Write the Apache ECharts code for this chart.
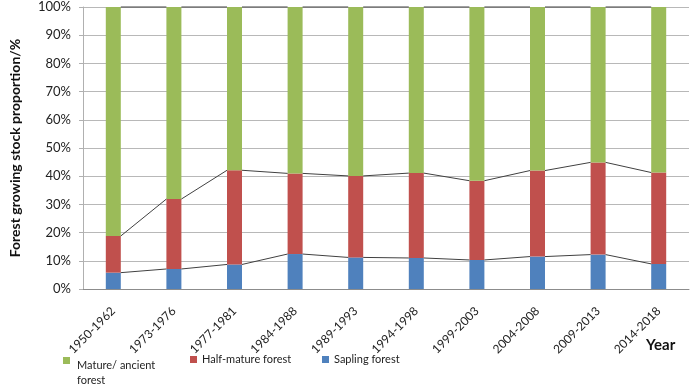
<!DOCTYPE html>
<html>
<head>
<meta charset="utf-8">
<script src="https://cdn.jsdelivr.net/npm/echarts@6/dist/echarts.min.js"></script>
<style>
html,body{margin:0;padding:0;background:#fff;}
#chart{width:692px;height:388px;}
</style>
</head>
<body>
<div id="chart"></div>
<script>
//森林蓄积量比例
var periods = ["1950-1962","1973-1976","1977-1981","1984-1988","1989-1993","1994-1998","1999-2003","2004-2008","2009-2013","2014-2018"];
var sapling = [5.8, 7.1, 8.7, 12.4, 11.2, 11.0, 10.3, 11.5, 12.2, 8.9];
var halfMature = [13.0, 24.8, 33.4, 28.6, 28.9, 30.1, 28.1, 30.5, 32.7, 32.4];
var mature = [81.2, 68.1, 57.9, 59.0, 59.9, 58.9, 61.6, 58.0, 55.1, 58.7];

var font = "Lato";
var barW = 15;

//堆叠顶部累计值，用于连线
function cumulate(lists){
    var out = [];
    for(var i=0;i<periods.length;i++){
        var s = 0;
        for(var j=0;j<lists.length;j++){ s += lists[j][i]; }
        out.push(s);
    }
    return out;
}
var topSapling = cumulate([sapling]);
var topHalf = cumulate([sapling,halfMature]);
var topAll = cumulate([sapling,halfMature,mature]);

function linkData(tops){
    var d = [];
    for(var i=0;i<tops.length-1;i++){ d.push([i, tops[i], tops[i+1]]); }
    return d;
}
//柱子之间的系列线
function seriesLine(tops){
    return {
        type: "custom",
        silent: true,
        z: 5,
        data: linkData(tops),
        encode: {x: 0, y: 1},
        renderItem: function(params, api){
            var p1 = api.coord([api.value(0), api.value(1)]);
            var p2 = api.coord([api.value(0)+1, api.value(2)]);
            return {
                type: "line",
                shape: {x1: p1[0]+barW/2, y1: p1[1], x2: p2[0]-barW/2, y2: p2[1]},
                style: {stroke: "#404040", lineWidth: 1}
            };
        }
    };
}

var chart = echarts.init(document.getElementById("chart"));
var legendText = {fontFamily: font, fontSize: 11, color: "#222"};
chart.setOption({
    animation: false,
    grid: {left: 74, right: 3, top: 7, bottom: 99},
    legend: [
        {left: 63, top: 333, padding: 0, icon: "rect", itemWidth: 7, itemHeight: 7,
            data: ["Mature/ ancient forest"],
            formatter: function(){ return "{gap|}\n{t|Mature/ ancient}\n{t|forest}"; },
            textStyle: {
                fontFamily: font, fontSize: 11, color: "#222",
                rich: {
                    gap: {height: 25, lineHeight: 25},
                    t: {fontFamily: font, fontSize: 11, color: "#222", lineHeight: 15, padding: [0,0,0,2]}
                }
            }},
        {left: 190, top: 354, padding: 0, icon: "rect", itemWidth: 7, itemHeight: 7,
            data: ["Half-mature forest"], textStyle: legendText},
        {left: 322, top: 354, padding: 0, icon: "rect", itemWidth: 7, itemHeight: 7,
            data: ["Sapling forest"], textStyle: legendText}
    ],
    xAxis: {
        type: "category",
        data: periods,
        axisLine: {lineStyle: {color: "#8c8c8c"}},
        axisTick: {show: false},
        axisLabel: {rotate: 45, interval: 0, margin: 20, fontFamily: font, fontSize: 12, color: "#222"}
    },
    yAxis: {
        type: "value",
        min: 0, max: 100, interval: 10,
        name: "Forest growing stock proportion/%",
        nameLocation: "middle",
        nameGap: 61,
        nameTextStyle: {fontFamily: font, fontSize: 14, fontWeight: "bold", color: "#111"},
        axisLine: {show: true, lineStyle: {color: "#b0b0b0"}},
        axisTick: {show: true, length: 4, lineStyle: {color: "#b0b0b0"}},
        axisLabel: {formatter: "{value}%", fontFamily: font, fontSize: 13, color: "#222", margin: 12},
        splitLine: {lineStyle: {color: "#b8b8b8"}}
    },
    graphic: [{
        type: "text", left: 646, top: 338,
        style: {text: "Year", fontFamily: font, fontSize: 15, fontWeight: "bold", fill: "#111"}
    }],
    series: [
        {name: "Sapling forest", type: "bar", stack: "all", barWidth: barW, data: sapling, itemStyle: {color: "#4F81BD"}},
        {name: "Half-mature forest", type: "bar", stack: "all", barWidth: barW, data: halfMature, itemStyle: {color: "#C0504D"}},
        {name: "Mature/ ancient forest", type: "bar", stack: "all", barWidth: barW, data: mature, itemStyle: {color: "#9BBB59"}},
        seriesLine(topSapling),
        seriesLine(topHalf),
        seriesLine(topAll)
    ]
});
</script>
</body>
</html>
